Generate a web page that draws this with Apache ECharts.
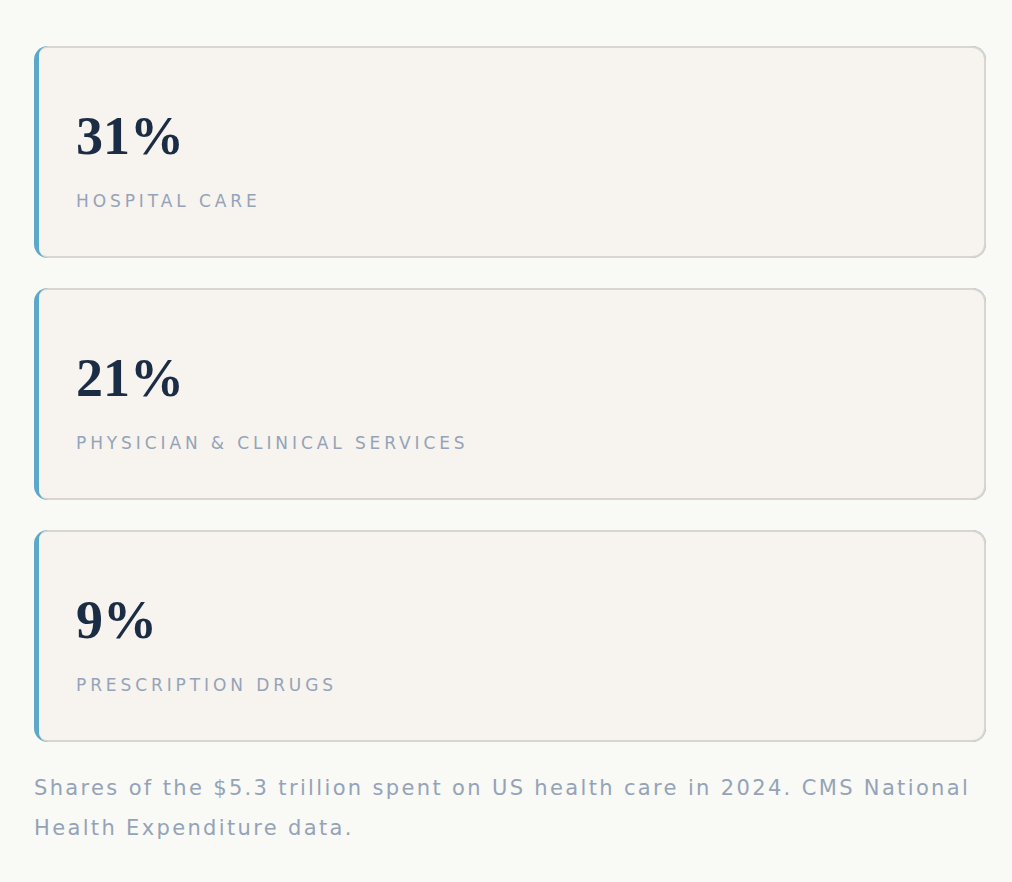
<!DOCTYPE html>
<html>
<head>
<meta charset="utf-8">
<script src="https://cdn.jsdelivr.net/npm/echarts@6/dist/echarts.min.js"></script>
<style>
  html, body { margin: 0; padding: 0; background: #f9f9f5; }
  #chart { width: 1012px; height: 882px; }
</style>
</head>
<body>
<div id="chart"></div>
<script>
// shares of US health spending, 2024
const categories = ['Hospital care', 'Physician & clinical services', 'Prescription drugs'];
const shares = [31, 21, 9];
const caption = 'Shares of the $5.3 trillion spent on US health care in 2024. CMS National\nHealth Expenditure data.';

const accent = '#5ba8c9';
const ink = '#1b2d44';
const muted = '#94a3b8';

// letter-spacing per text (svg renderer, applied after render)
const spacing = {};
categories.forEach(function (c) { spacing[c.toUpperCase()] = '3.9px'; });

const chart = echarts.init(document.getElementById('chart'), null, { renderer: 'svg' });

function renderCard(params, api) {
    const idx = api.value(0);
    const cs = params.coordSys;
    const band = api.size([0, 1])[1];
    const cy = api.coord([0, idx])[1];
    const h = band - 30;
    const x = cs.x;
    const y = cy - h / 2;
    const w = cs.width;
    return {
        type: 'group',
        children: [
            { type: 'rect', shape: { x: x, y: y, width: w, height: h, r: 14 }, style: { fill: accent } },
            { type: 'rect', shape: { x: x + 5, y: y, width: w - 5, height: h, r: [9, 14, 14, 9] }, style: { fill: '#d9d5d0' } },
            { type: 'rect', shape: { x: x + 5, y: y + 2, width: w - 7, height: h - 4, r: [8, 12, 12, 8] }, style: { fill: '#f7f3ee' } },
            {
                type: 'text',
                style: {
                    text: api.value(1) + '%',
                    x: x + 42, y: y + 90,
                    verticalAlign: 'middle',
                    font: '700 54px "Liberation Serif"',
                    fill: ink
                }
            },
            {
                type: 'text',
                style: {
                    text: categories[idx].toUpperCase(),
                    x: x + 42, y: y + 155,
                    verticalAlign: 'middle',
                    font: '400 17px "DejaVu Sans"',
                    fill: muted
                }
            }
        ]
    };
}

const option = {
    backgroundColor: '#f9f9f5',
    animation: false,
    title: {
        text: caption,
        left: 34,
        top: 768,
        padding: 0,
        textStyle: { fontSize: 21, fontWeight: 'normal', color: muted, lineHeight: 40, fontFamily: 'DejaVu Sans' }
    },
    grid: { left: 34, right: 26, top: 31, height: 726 },
    xAxis: { type: 'value', min: 0, max: 100, show: false },
    yAxis: { type: 'category', data: categories, inverse: true, show: false },
    series: [{
        type: 'custom',
        renderItem: renderCard,
        encode: { x: 1, y: 0 },
        data: shares.map(function (v, i) { return [i, v]; })
    }]
};

chart.setOption(option);

function applySpacing() {
    document.querySelectorAll('#chart text').forEach(function (t) {
        const s = t.textContent;
        if (spacing[s]) t.style.letterSpacing = spacing[s];
        else if (s.indexOf('Shares') === 0 || s.indexOf('Health') === 0) t.style.letterSpacing = '2.35px';
    });
}
applySpacing();
chart.on('finished', applySpacing);
</script>
</body>
</html>
